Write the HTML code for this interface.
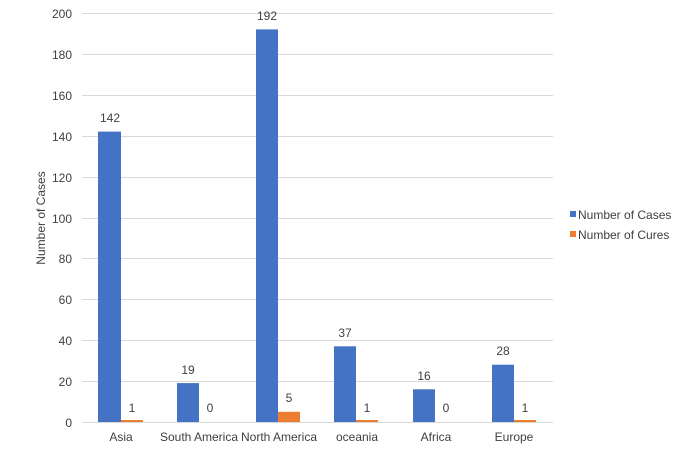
<!DOCTYPE html><html><head><style>body{margin:0;background:#fff}</style></head><body>
<svg width="696" height="457" xmlns="http://www.w3.org/2000/svg" font-family="Liberation Sans, sans-serif" font-size="12" fill="#404040">
<g stroke="#d9d9d9" stroke-width="1">
<line x1="82" x2="553" y1="13.5" y2="13.5"/><line x1="82" x2="553" y1="54.5" y2="54.5"/><line x1="82" x2="553" y1="95.5" y2="95.5"/><line x1="82" x2="553" y1="136.5" y2="136.5"/><line x1="82" x2="553" y1="177.5" y2="177.5"/><line x1="82" x2="553" y1="218.5" y2="218.5"/><line x1="82" x2="553" y1="258.5" y2="258.5"/><line x1="82" x2="553" y1="299.5" y2="299.5"/><line x1="82" x2="553" y1="340.5" y2="340.5"/><line x1="82" x2="553" y1="381.5" y2="381.5"/><line x1="82" x2="553" y1="422.5" y2="422.5"/>
</g>
<g text-anchor="end">
<text x="72" y="18">200</text><text x="72" y="59">180</text><text x="72" y="100">160</text><text x="72" y="141">140</text><text x="72" y="182">120</text><text x="72" y="223">100</text><text x="72" y="263">80</text><text x="72" y="304">60</text><text x="72" y="345">40</text><text x="72" y="386">20</text><text x="72" y="427">0</text>
</g>
<text transform="translate(45,218) rotate(-90)" text-anchor="middle">Number of Cases</text>
<g fill="#4472c4">
<rect x="98" y="131.6" width="23" height="290.4"/>
<rect x="177" y="383.1" width="22" height="38.9"/>
<rect x="256" y="29.4" width="22" height="392.6"/>
<rect x="334" y="346.3" width="22" height="75.7"/>
<rect x="413" y="389.3" width="22" height="32.7"/>
<rect x="492" y="364.7" width="22" height="57.3"/>
</g>
<g fill="#ed7d31">
<rect x="121" y="420" width="22" height="2"/>
<rect x="278" y="411.8" width="22" height="10.2"/>
<rect x="356" y="420" width="22" height="2"/>
<rect x="514" y="420" width="22" height="2"/>
</g>
<g text-anchor="middle">
<text x="110" y="122">142</text><text x="132" y="412">1</text>
<text x="188" y="374">19</text><text x="210" y="412">0</text>
<text x="267" y="20">192</text><text x="289" y="402">5</text>
<text x="345" y="337">37</text><text x="367" y="412">1</text>
<text x="424" y="380">16</text><text x="446" y="412">0</text>
<text x="503" y="355">28</text><text x="525" y="412">1</text>
<text x="121" y="441">Asia</text><text x="199" y="441">South America</text><text x="279" y="441">North America</text><text x="357" y="441">oceania</text><text x="436" y="441">Africa</text><text x="514" y="441">Europe</text>
</g>
<rect x="570" y="211" width="6" height="6" fill="#4472c4"/><text x="578" y="219">Number of Cases</text>
<rect x="570" y="231" width="6" height="6" fill="#ed7d31"/><text x="578" y="239">Number of Cures</text>
</svg></body></html>
